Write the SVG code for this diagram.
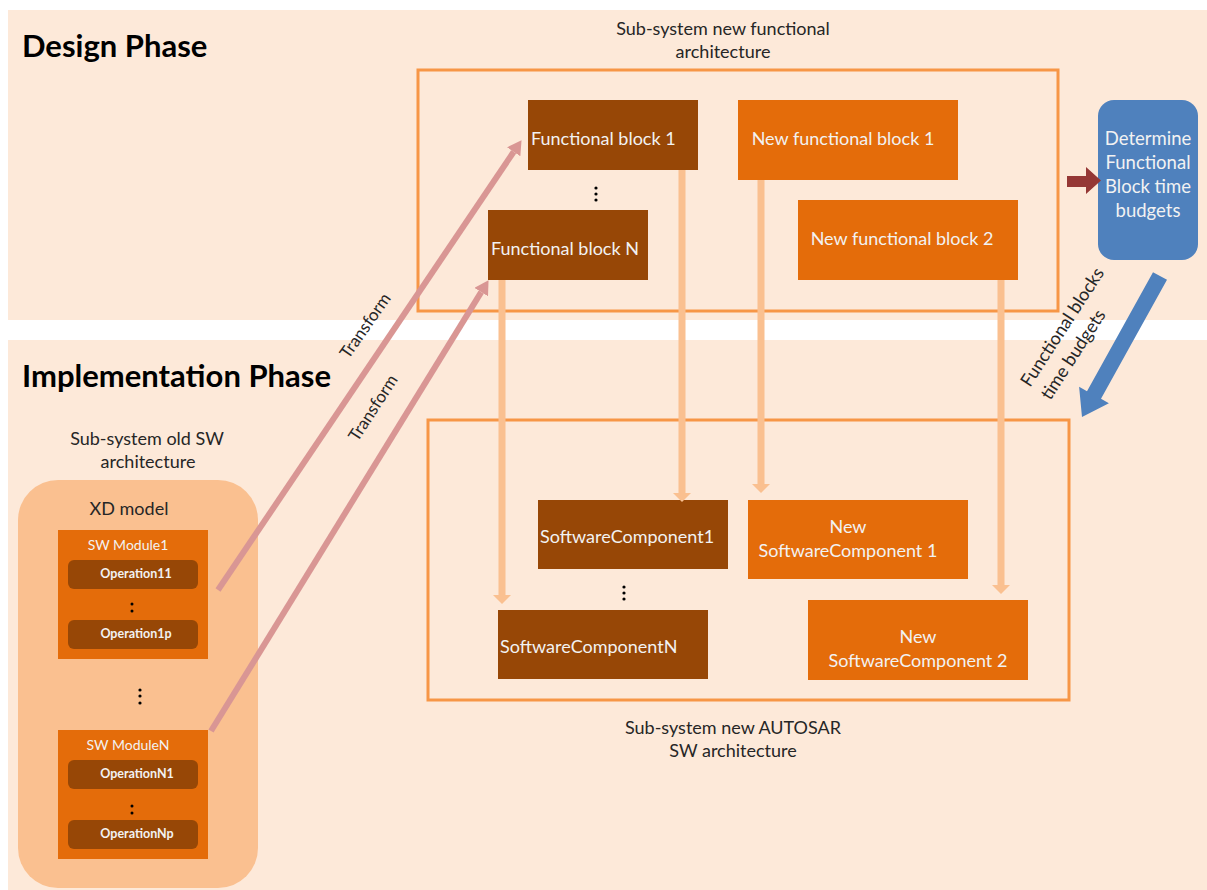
<svg xmlns="http://www.w3.org/2000/svg" width="1207" height="890" viewBox="0 0 1207 890">
<defs>
<style>
.band{fill:#FDE9D9}
.frame{fill:none;stroke:#F79646;stroke-width:3}
.dark{fill:#974706}
.org{fill:#E46C0A}
.f{font-family:Lato,"Open Sans","Liberation Sans",sans-serif}
.wt{fill:#F2F2F2;font-size:18px}
.lbl{fill:#262626;font-size:18px}
.head{fill:#000;font-size:31px;font-weight:bold}
.mod{fill:#F2F2F2;font-size:14px}
.op{fill:#F2F2F2;font-size:12.5px;font-weight:bold}
.lt{stroke:#FAC090;stroke-width:7;fill:none}
.tf{stroke:#D99694;stroke-width:6;fill:none}
.dot{fill:#000}
</style>
<marker id="hLt" markerUnits="userSpaceOnUse" markerWidth="9" markerHeight="18" viewBox="0 0 9 18" refX="0" refY="9" orient="auto">
<path d="M0,0 L9,9 L0,18 z" fill="#FAC090"/>
</marker>
<marker id="hTf" markerUnits="userSpaceOnUse" markerWidth="14" markerHeight="16" viewBox="0 0 14 16" refX="0" refY="8" orient="auto">
<path d="M0,0 L14,8 L0,16 z" fill="#D99694"/>
</marker>
</defs>
<rect width="1207" height="890" fill="#fff"/>
<rect class="band" x="8" y="10" width="1199" height="310"/>
<rect class="band" x="8" y="340" width="1199" height="550"/>

<g id="design-phase-label"><text class="f head" x="22" y="57">Design Phase</text></g>
<g id="impl-phase-label"><text class="f head" x="22" y="387">Implementation Phase</text></g>

<g id="new-functional-arch">
<rect class="frame" x="418" y="70" width="640" height="241"/>
<text class="f lbl" text-anchor="middle" x="723" y="35">Sub-system new  functional</text>
<text class="f lbl" text-anchor="middle" x="723" y="58">architecture</text>
</g>

<g id="fb1"><rect class="dark" x="528" y="100" width="170" height="70"/><text class="f wt" x="531" y="145">Functional block 1</text></g>
<g id="fbN"><rect class="dark" x="488" y="210" width="160" height="70"/><text class="f wt" x="491" y="255">Functional block N</text></g>
<g id="fb-dots"><circle class="dot" cx="596" cy="188" r="1.6"/><circle class="dot" cx="596" cy="194" r="1.6"/><circle class="dot" cx="596" cy="200" r="1.6"/></g>
<g id="nfb1"><rect class="org" x="738" y="100" width="220" height="80"/><text class="f wt" text-anchor="middle" x="843" y="145">New functional  block 1</text></g>
<g id="nfb2"><rect class="org" x="798" y="200" width="220" height="80"/><text class="f wt" text-anchor="middle" x="902" y="245">New functional  block 2</text></g>

<g id="determine">
<rect x="1098" y="100" width="100" height="160" rx="16" fill="#4F81BD"/>
<text class="f wt" text-anchor="middle" x="1148" y="145" style="font-size:18.5px">Determine</text>
<text class="f wt" text-anchor="middle" x="1148" y="169" style="font-size:18.5px">Functional</text>
<text class="f wt" text-anchor="middle" x="1148" y="193" style="font-size:18.5px">Block time</text>
<text class="f wt" text-anchor="middle" x="1148" y="217" style="font-size:18.5px">budgets</text>
</g>

<g id="autosar-arch">
<rect class="frame" x="428" y="420" width="641" height="280"/>
<text class="f lbl" text-anchor="middle" x="733" y="734">Sub-system new AUTOSAR</text>
<text class="f lbl" text-anchor="middle" x="733" y="757">SW architecture</text>
</g>
<g id="sc1"><rect class="dark" x="538" y="500" width="190" height="69"/><text class="f wt" x="540" y="543">SoftwareComponent1</text></g>
<g id="scN"><rect class="dark" x="498" y="610" width="210" height="69"/><text class="f wt" x="500" y="653">SoftwareComponentN</text></g>
<g id="sc-dots"><circle class="dot" cx="624" cy="587" r="1.6"/><circle class="dot" cx="624" cy="593" r="1.6"/><circle class="dot" cx="624" cy="599" r="1.6"/></g>
<g id="nsc1"><rect class="org" x="748" y="500" width="220" height="79"/><text class="f wt" text-anchor="middle" x="848" y="533">New</text><text class="f wt" text-anchor="middle" x="848" y="557">SoftwareComponent 1</text></g>
<g id="nsc2"><rect class="org" x="808" y="600" width="220" height="80"/><text class="f wt" text-anchor="middle" x="918" y="643">New</text><text class="f wt" text-anchor="middle" x="918" y="667">SoftwareComponent 2</text></g>

<g id="old-sw-arch">
<text class="f lbl" text-anchor="middle" x="147" y="445">Sub-system old  SW</text>
<text class="f lbl" text-anchor="middle" x="148" y="468">architecture</text>
</g>
<g id="xd-model">
<rect x="18" y="480" width="240" height="408" rx="40" fill="#FAC090"/>
<text class="f lbl" text-anchor="middle" x="129" y="515">XD model</text>
<circle class="dot" cx="140" cy="690" r="1.6"/><circle class="dot" cx="140" cy="696" r="1.6"/><circle class="dot" cx="140" cy="703" r="1.6"/>
</g>
<g id="sw-module1">
<rect class="org" x="58" y="530" width="150" height="129"/>
<text class="f mod" text-anchor="middle" x="128" y="550">SW Module1</text>
<rect class="dark" x="68" y="560" width="130" height="29" rx="6"/>
<text class="f op" text-anchor="middle" x="136" y="578">Operation11</text>
<circle class="dot" cx="132" cy="604" r="1.5"/><circle class="dot" cx="132" cy="611" r="1.5"/>
<rect class="dark" x="68" y="620" width="130" height="29" rx="6"/>
<text class="f op" text-anchor="middle" x="136" y="638">Operation1p</text>
</g>
<g id="sw-moduleN">
<rect class="org" x="58" y="730" width="150" height="129"/>
<text class="f mod" text-anchor="middle" x="128" y="750">SW ModuleN</text>
<rect class="dark" x="68" y="760" width="130" height="29" rx="6"/>
<text class="f op" text-anchor="middle" x="137" y="778">OperationN1</text>
<circle class="dot" cx="132" cy="806" r="1.5"/><circle class="dot" cx="132" cy="813" r="1.5"/>
<rect class="dark" x="68" y="820" width="130" height="29" rx="6"/>
<text class="f op" text-anchor="middle" x="137" y="838">OperationNp</text>
</g>

<g id="connectors">
<line class="lt" x1="682" y1="170" x2="682" y2="493" marker-end="url(#hLt)"/>
<line class="lt" x1="761" y1="180" x2="761" y2="484" marker-end="url(#hLt)"/>
<line class="lt" x1="502" y1="280" x2="502" y2="595" marker-end="url(#hLt)"/>
<line class="lt" x1="1001" y1="280" x2="1001" y2="585" marker-end="url(#hLt)"/>
<line class="tf" x1="218" y1="590" x2="513.7" y2="151.8" marker-end="url(#hTf)"/>
<line class="tf" x1="211" y1="731" x2="481.2" y2="292.1" marker-end="url(#hTf)"/>
<text class="f lbl" style="font-size:17px" text-anchor="middle" transform="translate(370,329) rotate(-55)">Transform</text>
<text class="f lbl" style="font-size:17px" text-anchor="middle" transform="translate(378,411) rotate(-57)">Transform</text>
<polygon points="1067,176 1086,176 1086,167 1101,180.5 1086,194 1086,187 1067,187" fill="#953735"/>
<polygon points="1153,272.2 1167,279.8 1101,398.8 1108.9,403.2 1082,417 1079.1,386.8 1087,391.2" fill="#4F81BD"/>
<text class="f lbl" transform="translate(1030,388) rotate(-57)"><tspan x="0" y="0">Functional blocks</tspan><tspan x="0" y="24">time budgets</tspan></text>
</g>
</svg>
